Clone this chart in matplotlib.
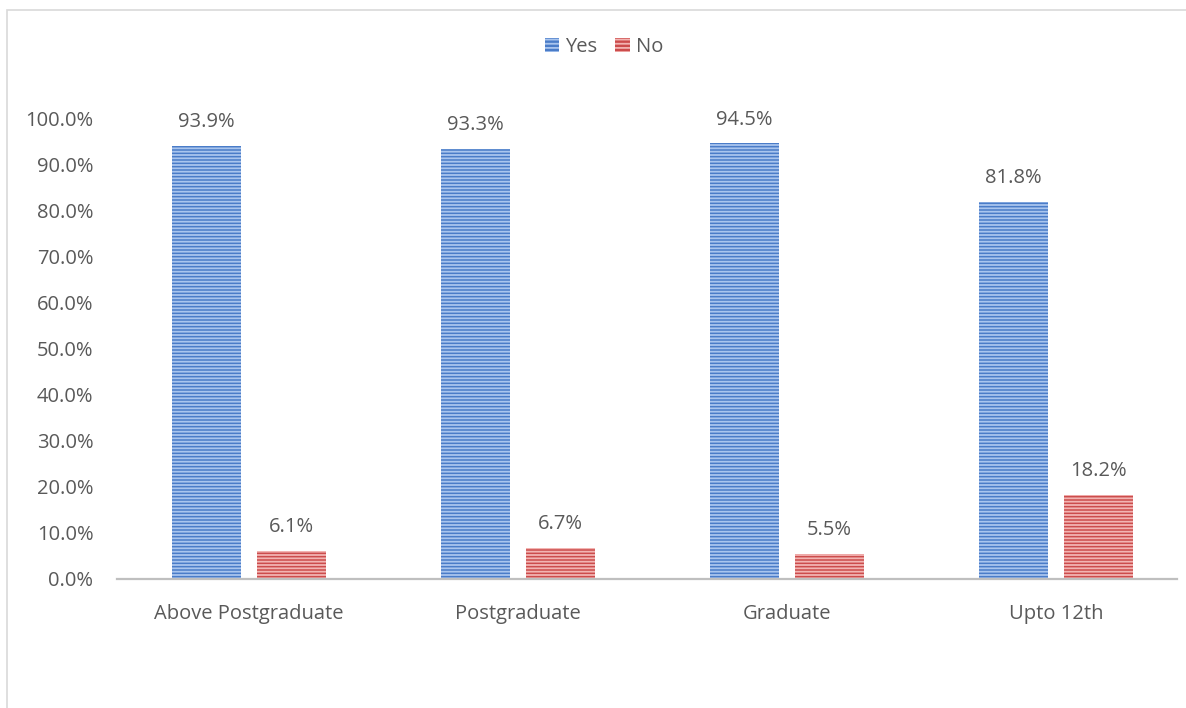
import matplotlib
matplotlib.use("Agg")
import matplotlib.pyplot as plt
from matplotlib.patches import Rectangle, Patch
import numpy as np

categories = ["Above Postgraduate", "Postgraduate", "Graduate", "Upto 12th"]
yes_vals = [93.9, 93.3, 94.5, 81.8]
no_vals = [6.1, 6.7, 5.5, 18.2]
series_names = ["Yes", "No"]

plt.rcParams['font.family'] = ['Open Sans', 'DejaVu Sans']
plt.rcParams['hatch.linewidth'] = 1.3

W, H = 1186, 708
fig = plt.figure(figsize=(W/100, H/100), dpi=100)
fig.patches.append(Rectangle((7/W, -0.1), 1.2, 1 - 10/H + 0.1, transform=fig.transFigure,
                             fill=False, edgecolor='#d9d9d9', linewidth=1.2))

ax = fig.add_axes([117/W, 1 - 579/H, (W - 117)/W, (579 - 118)/H])
x = np.arange(len(categories))
off = 0.158
bw = 0.26
tc = '#595959'
fs = 14.5

blue_face, blue_hatch = '#4a7cc8', '#a9c5ee'
red_face, red_hatch = '#cc4c4c', '#f2b4b2'

for xi, v in zip(x, yes_vals):
    b = ax.bar(xi - off, v, bw, color=blue_face, linewidth=0, hatch='-----')
    b[0].set_edgecolor(blue_hatch)
    b[0].set_linewidth(0)
    ax.text(xi - off, v + 3.0, f"{v:.1f}%", ha='center', va='bottom', fontsize=fs, color=tc)
for xi, v in zip(x, no_vals):
    b = ax.bar(xi + off, v, bw, color=red_face, linewidth=0, hatch='-----')
    b[0].set_edgecolor(red_hatch)
    b[0].set_linewidth(0)
    ax.text(xi + off, v + 3.0, f"{v:.1f}%", ha='center', va='bottom', fontsize=fs, color=tc)

ax.set_xlim(-0.5 + 2.5/269, -0.5 + (W - 114.5)/269)
ax.set_ylim(0, 100)
ax.set_yticks(np.arange(0, 101, 10))
ax.set_yticklabels([f"{t:.1f}%" for t in np.arange(0, 101, 10)])
ax.set_xticks(x)
ax.set_xticklabels(categories)
ax.tick_params(axis='y', length=0, pad=17, labelsize=fs, labelcolor=tc)
ax.tick_params(axis='x', length=0, pad=18, labelsize=fs, labelcolor=tc)
for s in ['top', 'right', 'left']:
    ax.spines[s].set_visible(False)
ax.spines['bottom'].set_color('#bfbfbf')
ax.spines['bottom'].set_linewidth(1.6)
ax.spines['bottom'].set_bounds(ax.get_xlim()[0], 3.45)

handles = [Patch(facecolor=blue_face, edgecolor=blue_hatch, hatch='----', linewidth=0),
           Patch(facecolor=red_face, edgecolor=red_hatch, hatch='----', linewidth=0)]
fig.legend(handles, series_names, loc='center', bbox_to_anchor=(604/W, 1 - 47/H), ncol=2,
           frameon=False, fontsize=fs, handlelength=0.7, handleheight=0.7, handletextpad=0.3,
           columnspacing=0.9, labelcolor=tc)

fig.savefig("out.png", dpi=100, facecolor='white')
